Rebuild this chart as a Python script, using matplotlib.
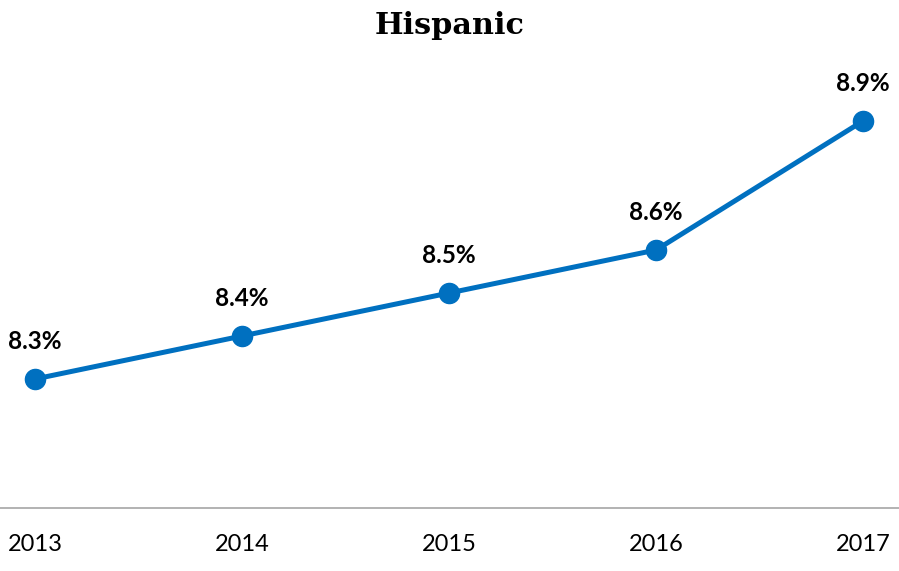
import matplotlib
matplotlib.use("Agg")
import matplotlib.pyplot as plt

years = ["2013", "2014", "2015", "2016", "2017"]
values = [8.3, 8.4, 8.5, 8.6, 8.9]
labels = ["8.3%", "8.4%", "8.5%", "8.6%", "8.9%"]

fig = plt.figure(figsize=(8.99, 5.71), dpi=100)
ax = fig.add_axes([0.0, 0.1103, 1.0, 0.7531])
x = list(range(len(years)))
ax.plot(x, values, color="#0070C0", lw=3.6, marker="o", ms=14.5, zorder=3, clip_on=False)
for xi, v, lab in zip(x, values, labels):
    ax.annotate(lab, (xi, v), xytext=(0, 27), textcoords="offset points",
                ha="center", va="center", fontsize=17.5, fontweight="bold",
                family="Lato", color="black")
ax.set_xlim(-35/207, 4 + 36/207)
ax.set_ylim(8.0, 9.0)
ax.set_xticks(x)
ax.set_xticklabels(years, family="Lato", fontsize=17)
ax.tick_params(axis="x", length=0, pad=19)
ax.set_yticks([])
for s in ["top", "left", "right"]:
    ax.spines[s].set_visible(False)
ax.spines["bottom"].set_color("#A6A6A6")
ax.spines["bottom"].set_linewidth(1.2)
fig.text(0.5, 1 - 25/571, "Hispanic", ha="center", va="center",
         fontsize=21.8, fontweight="bold", family="DejaVu Serif")
fig.savefig("out.png", dpi=100)
